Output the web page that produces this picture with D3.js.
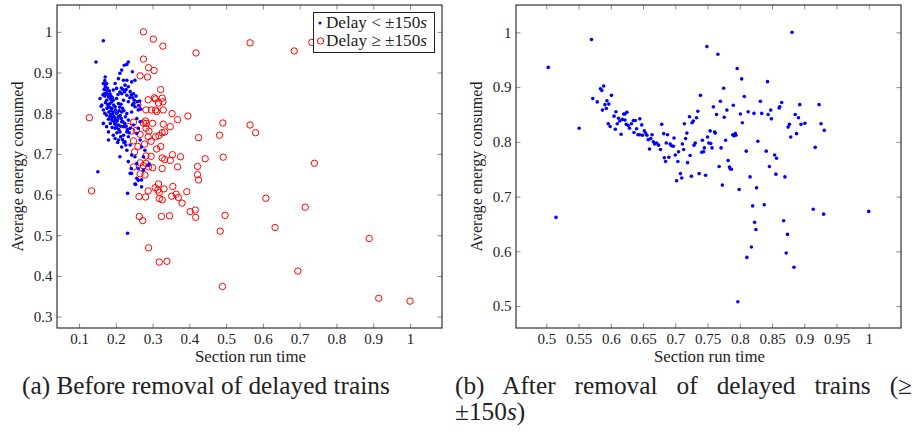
<!DOCTYPE html>
<meta charset="utf-8">
<head>
<style>
  body { margin: 0; background: #fff; }
  svg text { font-family: "Liberation Serif", "Times New Roman", serif; fill: #222; }
  .tick line { stroke: #8a8a8a; }
  .frame { fill: none; stroke: #333; stroke-width: 1.2px; }
</style>
<script src="https://cdn.jsdelivr.net/npm/d3@7"></script>
</head>
<body>
<script>
// (a) before removal: on-time runs (delay < 150s)
const beforeOnTime = [
  [0.166,0.978],[0.146,0.926],[0.234,0.926],[0.230,0.920],[0.223,0.918],[0.245,0.902],
  [0.171,0.889],[0.166,0.873],[0.171,0.865],[0.175,0.857],[0.169,0.848],[0.180,0.840],
  [0.175,0.832],[0.184,0.824],[0.180,0.816],[0.189,0.812],[0.198,0.816],[0.193,0.803],
  [0.202,0.799],[0.207,0.791],[0.184,0.791],[0.189,0.783],[0.198,0.775],[0.207,0.771],
  [0.216,0.779],[0.221,0.767],[0.198,0.763],[0.211,0.754],[0.221,0.746],[0.230,0.754],
  [0.234,0.742],[0.207,0.734],[0.225,0.730],[0.216,0.717],[0.239,0.722],[0.230,0.709],
  [0.243,0.697],[0.211,0.693],[0.252,0.693],[0.234,0.681],[0.257,0.676],[0.261,0.664],
  [0.243,0.652],[0.257,0.640],[0.252,0.626],[0.151,0.656],[0.221,0.881],[0.230,0.881],
  [0.225,0.869],[0.234,0.865],[0.243,0.877],[0.252,0.881],[0.239,0.853],[0.248,0.848],
  [0.230,0.844],[0.216,0.848],[0.221,0.832],[0.234,0.828],[0.248,0.824],[0.252,0.816],
  [0.261,0.808],[0.243,0.803],[0.230,0.799],[0.216,0.803],[0.257,0.787],[0.266,0.779],
  [0.248,0.771],[0.239,0.763],[0.261,0.763],[0.257,0.750],[0.266,0.734],[0.270,0.717],
  [0.279,0.709],[0.275,0.693],[0.288,0.672],[0.275,0.660],[0.261,0.635],[0.270,0.619],
  [0.162,0.820],[0.157,0.836],[0.166,0.808],[0.175,0.795],[0.193,0.832],[0.202,0.836],
  [0.207,0.824],[0.184,0.848],[0.193,0.857],[0.202,0.861],[0.198,0.873],[0.207,0.885],
  [0.211,0.898],[0.216,0.906],[0.166,0.775],[0.175,0.767],[0.180,0.754],[0.193,0.746],
  [0.198,0.738],[0.180,0.734],[0.234,0.783],[0.232,0.603],[0.232,0.505],[0.239,0.652],
  [0.242,0.664],[0.254,0.625],[0.270,0.636],[0.291,0.675],[0.160,0.817],
  [0.172,0.826],[0.178,0.821],[0.183,0.815],[0.187,0.806],[0.191,0.798],[0.195,0.792],
  [0.199,0.786],[0.203,0.780],[0.176,0.812],[0.181,0.803],[0.186,0.797],[0.190,0.789],
  [0.194,0.780],[0.198,0.772],[0.202,0.765],[0.185,0.835],[0.189,0.828],[0.194,0.820],
  [0.199,0.808],[0.204,0.801],[0.209,0.806],[0.212,0.794],[0.215,0.787],[0.219,0.779],
  [0.210,0.815],[0.214,0.822],[0.218,0.812],[0.222,0.806],[0.226,0.791],[0.224,0.775],
  [0.228,0.768],[0.232,0.760],[0.236,0.752],[0.170,0.842],[0.174,0.850],[0.178,0.846],
  [0.168,0.858],[0.172,0.870],[0.177,0.862],[0.182,0.855],[0.187,0.842],[0.191,0.838],
  [0.206,0.846],[0.211,0.852],[0.215,0.862],[0.219,0.858],[0.224,0.852],[0.228,0.858],
  [0.238,0.838],[0.242,0.845],[0.246,0.838],[0.250,0.832],[0.255,0.842],[0.258,0.828],
  [0.262,0.819],[0.265,0.830],[0.268,0.810],[0.245,0.820],[0.213,0.742],[0.218,0.735],
  [0.222,0.728],[0.227,0.722],[0.205,0.728],[0.203,0.752],[0.208,0.760],[0.213,0.768],
  [0.205,0.785],[0.185,0.775],[0.190,0.765],[0.180,0.785],[0.170,0.800],[0.165,0.845],
  [0.170,0.880],[0.175,0.873]
]

// (a) before removal: delayed runs (delay >= 150s)
const beforeDelayed = [
  [0.275,1.000],[0.302,0.982],[0.328,0.965],[0.418,0.948],[0.565,0.973],[0.685,0.953],
  [0.733,0.974],[0.275,0.933],[0.289,0.912],[0.304,0.905],[0.266,0.892],[0.286,0.889],
  [0.322,0.858],[0.288,0.833],[0.305,0.838],[0.308,0.835],[0.326,0.837],[0.328,0.828],
  [0.316,0.825],[0.260,0.820],[0.282,0.808],[0.297,0.808],[0.308,0.808],[0.311,0.804],
  [0.329,0.808],[0.353,0.799],[0.368,0.784],[0.396,0.793],[0.128,0.789],[0.248,0.778],
  [0.275,0.776],[0.281,0.781],[0.282,0.775],[0.300,0.775],[0.329,0.773],[0.348,0.767],
  [0.491,0.776],[0.565,0.771],[0.580,0.752],[0.482,0.746],[0.425,0.740],[0.234,0.767],
  [0.243,0.756],[0.256,0.758],[0.282,0.763],[0.290,0.756],[0.266,0.748],[0.288,0.742],
  [0.308,0.742],[0.317,0.745],[0.326,0.752],[0.333,0.754],[0.248,0.732],[0.278,0.724],
  [0.296,0.731],[0.322,0.718],[0.311,0.712],[0.260,0.718],[0.251,0.705],[0.282,0.695],
  [0.296,0.694],[0.326,0.690],[0.333,0.686],[0.354,0.698],[0.376,0.693],[0.348,0.684],
  [0.443,0.688],[0.492,0.692],[0.740,0.677],[0.248,0.668],[0.266,0.678],[0.275,0.671],
  [0.282,0.677],[0.289,0.668],[0.300,0.666],[0.326,0.664],[0.368,0.668],[0.422,0.669],
  [0.266,0.651],[0.279,0.648],[0.422,0.649],[0.425,0.636],[0.134,0.609],[0.263,0.595],
  [0.281,0.594],[0.288,0.609],[0.307,0.617],[0.316,0.626],[0.314,0.611],[0.318,0.605],
  [0.318,0.590],[0.326,0.587],[0.331,0.614],[0.355,0.620],[0.352,0.596],[0.364,0.601],
  [0.370,0.593],[0.380,0.579],[0.393,0.607],[0.402,0.558],[0.416,0.562],[0.417,0.544],
  [0.608,0.591],[0.715,0.569],[0.264,0.546],[0.273,0.536],[0.324,0.546],[0.346,0.548],
  [0.497,0.549],[0.484,0.510],[0.633,0.519],[0.889,0.492],[0.289,0.469],[0.318,0.434],
  [0.339,0.436],[0.695,0.412],[0.490,0.374],[0.915,0.345],[1.000,0.338]
]

// (b) after removal of delayed trains
const afterRemoval = [
  [0.503,0.936],[0.515,0.662],[0.551,0.825],[0.570,0.987],[0.572,0.879],[0.579,0.873],
  [0.584,0.897],[0.586,0.894],[0.589,0.902],[0.587,0.858],[0.591,0.868],[0.594,0.875],
  [0.593,0.861],[0.597,0.869],[0.601,0.885],[0.596,0.833],[0.599,0.828],[0.605,0.847],
  [0.607,0.823],[0.608,0.855],[0.610,0.833],[0.612,0.843],[0.614,0.838],[0.616,0.814],
  [0.618,0.841],[0.620,0.851],[0.622,0.851],[0.625,0.854],[0.622,0.840],[0.624,0.832],
  [0.627,0.830],[0.629,0.825],[0.632,0.833],[0.635,0.839],[0.636,0.817],[0.638,0.839],
  [0.640,0.824],[0.642,0.813],[0.645,0.842],[0.648,0.831],[0.645,0.813],[0.649,0.812],
  [0.652,0.820],[0.654,0.816],[0.656,0.812],[0.658,0.804],[0.660,0.787],[0.662,0.806],
  [0.664,0.813],[0.666,0.800],[0.668,0.796],[0.671,0.798],[0.674,0.794],[0.677,0.786],
  [0.679,0.832],[0.682,0.815],[0.683,0.771],[0.685,0.764],[0.686,0.798],[0.688,0.813],
  [0.690,0.772],[0.692,0.796],[0.694,0.793],[0.697,0.792],[0.698,0.807],[0.700,0.776],
  [0.702,0.729],[0.704,0.764],[0.705,0.782],[0.708,0.742],[0.710,0.734],[0.711,0.796],
  [0.713,0.786],[0.714,0.833],[0.716,0.806],[0.718,0.816],[0.719,0.762],[0.722,0.846],
  [0.723,0.775],[0.725,0.737],[0.726,0.835],[0.728,0.838],[0.729,0.794],[0.731,0.798],
  [0.733,0.844],[0.735,0.856],[0.737,0.742],[0.739,0.885],[0.741,0.781],[0.742,0.803],
  [0.744,0.782],[0.745,0.789],[0.747,0.739],[0.749,0.974],[0.750,0.809],[0.752,0.798],
  [0.754,0.820],[0.755,0.797],[0.757,0.789],[0.759,0.864],[0.761,0.818],[0.762,0.816],
  [0.764,0.850],[0.766,0.960],[0.768,0.755],[0.770,0.874],[0.771,0.789],[0.773,0.721],
  [0.775,0.898],[0.776,0.845],[0.778,0.803],[0.780,0.858],[0.782,0.766],[0.784,0.754],
  [0.785,0.751],[0.787,0.750],[0.789,0.813],[0.791,0.811],[0.793,0.815],[0.794,0.812],
  [0.790,0.867],[0.796,0.934],[0.797,0.508],[0.799,0.713],[0.801,0.851],[0.803,0.915],
  [0.804,0.835],[0.807,0.883],[0.810,0.783],[0.811,0.589],[0.813,0.855],[0.816,0.736],
  [0.818,0.608],[0.820,0.683],[0.822,0.852],[0.823,0.653],[0.825,0.640],[0.826,0.716],
  [0.828,0.801],[0.832,0.874],[0.834,0.852],[0.838,0.685],[0.841,0.783],[0.843,0.910],
  [0.844,0.850],[0.846,0.755],[0.848,0.858],[0.849,0.842],[0.854,0.776],[0.857,0.770],
  [0.856,0.741],[0.861,0.862],[0.862,0.864],[0.865,0.872],[0.868,0.656],[0.870,0.736],
  [0.872,0.597],[0.874,0.631],[0.875,0.827],[0.877,0.832],[0.879,0.809],[0.881,1.000],
  [0.884,0.571],[0.886,0.850],[0.888,0.815],[0.891,0.844],[0.893,0.868],[0.895,0.832],
  [0.901,0.834],[0.914,0.677],[0.917,0.790],[0.923,0.868],[0.926,0.833],[0.930,0.668],
  [0.931,0.821],[1.000,0.673]
]

const ticksAX = [0.1,0.2,0.3,0.4,0.5,0.6,0.7,0.8,0.9,1]
const ticksAY = [0.3,0.4,0.5,0.6,0.7,0.8,0.9,1]
const ticksBX = [0.5,0.55,0.6,0.65,0.7,0.75,0.8,0.85,0.9,0.95,1]
const ticksBY = [0.5,0.6,0.7,0.8,0.9,1]

const xLabel = "Section run time"
const yLabel = "Average energy consumed"

const serif = '"Liberation Serif", "Times New Roman", serif'

const svg = d3.select("body").append("svg")
  .attr("width", 919).attr("height", 434)
  .attr("font-family", serif)

const fmt = d => String(d)

// stretch a text to a target width by picking its font size
function fitWidth(sel, target) {
  const fs = +sel.attr("font-size")
  const w = sel.node().getComputedTextLength()
  sel.attr("font-size", fs * target / w)
}

function panel(box, xDom, yDom, xt, yt) {
  const x = d3.scaleLinear().domain(xDom).range([box.left, box.right])
  const y = d3.scaleLinear().domain(yDom).range([box.bottom, box.top])
  const h = box.bottom - box.top, w = box.right - box.left

  const axes = [
    [d3.axisBottom(x).tickValues(xt).tickFormat(fmt), box.bottom, "x", true],
    [d3.axisTop(x).tickValues(xt), box.top, "x", false],
    [d3.axisLeft(y).tickValues(yt).tickFormat(fmt), box.left, "y", true],
    [d3.axisRight(y).tickValues(yt), box.right, "y", false]
  ]
  axes.forEach(([ax, pos, dir, labels]) => {
    const g = svg.append("g")
      .attr("transform", dir === "x" ? `translate(0,${pos})` : `translate(${pos},0)`)
      .call(ax.tickSizeInner(-4.5).tickSizeOuter(0).tickPadding(dir === "x" ? 5 : 4.5))
    g.attr("font-family", serif).attr("font-size", 15)
    g.select(".domain").remove()
    if (!labels) g.selectAll(".tick text").remove()
    g.selectAll(".tick text").attr("fill", "#222")
  })

  svg.append("rect").attr("class", "frame")
    .attr("x", box.left).attr("y", box.top).attr("width", w).attr("height", h)

  const xl = svg.append("text").attr("x", (box.left + box.right) / 2 + 1).attr("y", 362)
    .attr("text-anchor", "middle").attr("font-size", 15).text(xLabel)
  fitWidth(xl, 111)
  const yl = svg.append("text")
    .attr("transform", `translate(${box.left - 34},${(box.top + box.bottom) / 2}) rotate(-90)`)
    .attr("text-anchor", "middle").attr("font-size", 15).text(yLabel)
  fitWidth(yl, 170)

  return { x, y }
}

// (a)
const a = panel({ left: 57, right: 442, top: 5, bottom: 328 }, [0.04, 1.087], [0.272, 1.066], ticksAX, ticksAY)

svg.append("g").selectAll("circle").data(beforeDelayed).enter().append("circle")
  .attr("cx", d => a.x(d[0])).attr("cy", d => a.y(d[1])).attr("r", 3.2)
  .attr("fill", "none").attr("stroke", "#ff0000").attr("stroke-width", 1)

svg.append("g").selectAll("circle").data(beforeOnTime).enter().append("circle")
  .attr("cx", d => a.x(d[0])).attr("cy", d => a.y(d[1])).attr("r", 1.8)
  .attr("fill", "#0000ff")

// legend
const lg = svg.append("g")
lg.append("rect").attr("x", 313.5).attr("y", 12.5).attr("width", 121).attr("height", 40)
  .attr("fill", "#fff").attr("stroke", "#222").attr("stroke-width", 1)
lg.append("circle").attr("cx", 320).attr("cy", 23).attr("r", 1.5).attr("fill", "#0000ff")
lg.append("circle").attr("cx", 320.5).attr("cy", 41).attr("r", 3.2)
  .attr("fill", "none").attr("stroke", "#ff0000").attr("stroke-width", 1)
const l1 = lg.append("text").attr("x", 326).attr("y", 28).attr("font-size", 15)
l1.append("tspan").text("Delay < ±150")
l1.append("tspan").attr("font-style", "italic").text("s")
fitWidth(l1, 101)
const l2 = lg.append("text").attr("x", 326).attr("y", 46).attr("font-size", 15)
l2.append("tspan").text("Delay ≥ ±150")
l2.append("tspan").attr("font-style", "italic").text("s")
fitWidth(l2, 101)

// (b)
const b = panel({ left: 516, right: 901, top: 5, bottom: 328 }, [0.453, 1.05], [0.46, 1.05], ticksBX, ticksBY)

svg.append("g").selectAll("circle").data(afterRemoval).enter().append("circle")
  .attr("cx", d => b.x(d[0])).attr("cy", d => b.y(d[1])).attr("r", 1.8)
  .attr("fill", "#0000ff")

// captions
const capA = svg.append("text").attr("x", 22).attr("y", 394).attr("font-size", 21)
  .text("(a) Before removal of delayed trains")
fitWidth(capA, 368)
const capFs = +capA.attr("font-size")
const capB = ["(b)", "After", "removal", "of", "delayed", "trains", "(≥"]
const capText = svg.append("text").attr("y", 394).attr("font-size", capFs)
capText.text(capB.join(" "))
const natural = capText.node().getComputedTextLength()
capText.attr("x", 455).attr("word-spacing", (912 - 455 - natural) / (capB.length - 1))
const c2 = svg.append("text").attr("x", 455).attr("y", 420).attr("font-size", capFs)
c2.append("tspan").text("±150")
c2.append("tspan").attr("font-style", "italic").text("s")
c2.append("tspan").text(")")
</script>
</body>
